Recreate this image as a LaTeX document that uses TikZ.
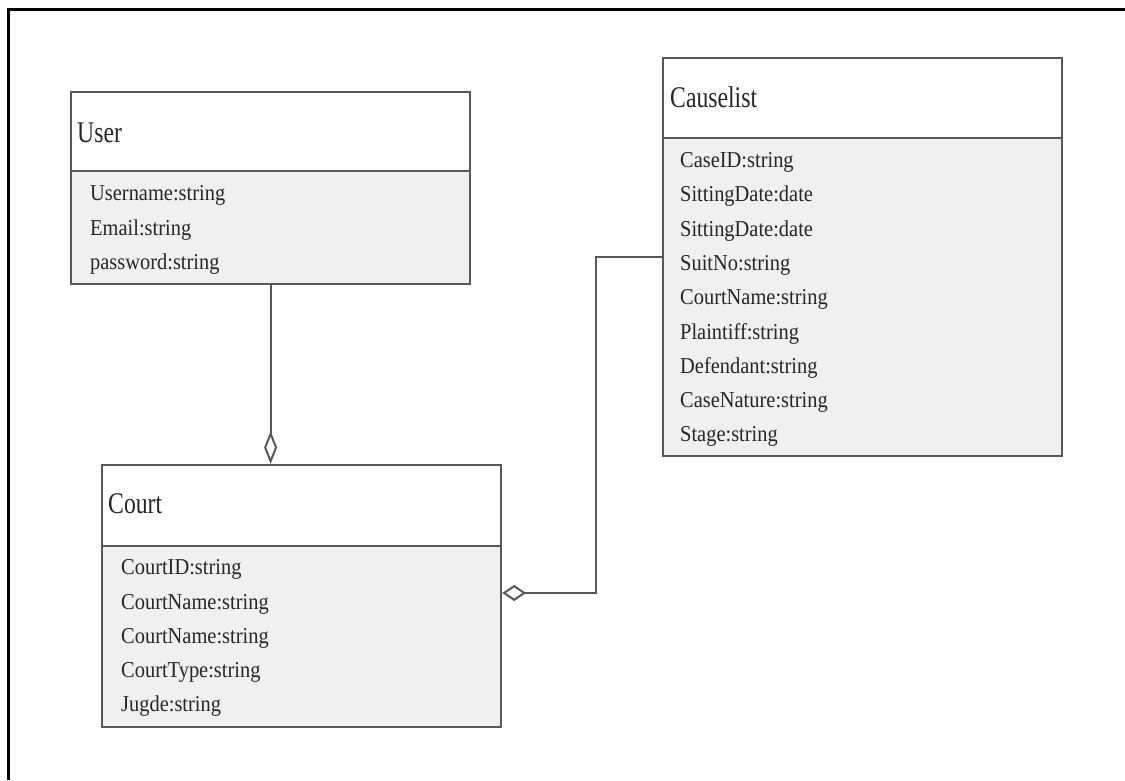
\documentclass[tikz,border=0pt]{standalone}
\usepackage{fontspec}
\setmainfont{Liberation Serif}
\newfontfamily\titleface[FakeStretch=0.79]{Liberation Serif}
\newfontfamily\attrface[FakeStretch=0.9]{Liberation Serif}
\usetikzlibrary{arrows.meta}
\definecolor{boxline}{HTML}{585858}
\definecolor{bodyfill}{HTML}{F0F0F0}
\tikzset{
  hdr/.style={draw=boxline, line width=2.2pt, fill=white, inner sep=0pt,
    minimum width=399pt, anchor=north west},
  body/.style={draw=boxline, line width=2.2pt, fill=bodyfill, inner sep=0pt,
    minimum width=399pt, anchor=north west},
  title/.style={anchor=base west, inner sep=0pt, text=black!85,
    font=\titleface\fontsize{30}{34}\selectfont},
  attr/.style={anchor=base west, inner sep=0pt, text=black!85,
    font=\attrface\fontsize{22.7}{26}\selectfont},
  agg/.style={draw=boxline, line width=2pt},
  frame/.style={draw=black, line width=3pt},
}
\begin{document}
\begin{tikzpicture}[x=1pt,y=-1pt]
\useasboundingbox (0,0) rectangle (1125,780);

% page frame (top and left edges)
\draw[frame] (8.5,780) -- (8.5,9.5) -- (1125,9.5);

% class User
\node[body, minimum height=113pt] (userB) at (70,170) {};
\node[hdr, minimum height=79pt] (userH) at (70,91) {};
\node[title] (userT) at (77,142) {User};
\node[attr] (u1) at (90,200.5) {Username:string};
\node[attr] (u2) at (90,235) {Email:string};
\node[attr] (u3) at (90,269.5) {password:string};

% class Court
\node[body, minimum height=181pt] (courtB) at (101,545) {};
\node[hdr, minimum height=81pt] (courtH) at (101,464) {};
\node[title] (courtT) at (108,513) {Court};
\node[attr] (c1) at (121,574.5) {CourtID:string};
\node[attr] (c2) at (121,609) {CourtName:string};
\node[attr] (c3) at (121,643.5) {CourtName:string};
\node[attr] (c4) at (121,677.5) {CourtType:string};
\node[attr] (c5) at (121,711.5) {Jugde:string};

% class Causelist
\node[body, minimum height=318pt] (clB) at (662,137) {};
\node[hdr, minimum height=80pt] (clH) at (662,57) {};
\node[title] (clT) at (670,107) {Causelist};
\node[attr] (l1) at (680,167.5) {CaseID:string};
\node[attr] (l2) at (680,201.8) {SittingDate:date};
\node[attr] (l3) at (680,236.1) {SittingDate:date};
\node[attr] (l4) at (680,270.4) {SuitNo:string};
\node[attr] (l5) at (680,304.7) {CourtName:string};
\node[attr] (l6) at (680,339) {Plaintiff:string};
\node[attr] (l7) at (680,373.3) {Defendant:string};
\node[attr] (l8) at (680,407.6) {CaseNature:string};
\node[attr] (l9) at (680,441.9) {Stage:string};

% aggregation: User -> Court
\draw[agg, -{Diamond[open, length=33pt, width=13pt]}]
  (userB.south) -- (userB.south |- courtH.north);

% aggregation: Causelist -> Court
\coordinate (j1) at (596,257);
\coordinate (j2) at (596,593);
\draw[agg, -{Diamond[open, length=24pt, width=16pt]}]
  (j1 -| clB.west) -- (j1) -- (j2) -- (j2 -| courtB.east);
\end{tikzpicture}
\end{document}
